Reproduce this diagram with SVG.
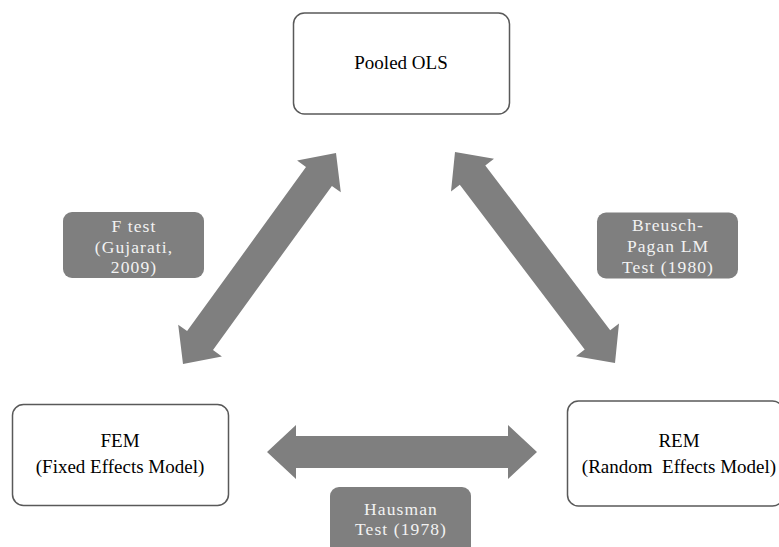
<svg xmlns="http://www.w3.org/2000/svg" width="779" height="547" viewBox="0 0 779 547">
<style>
.box{fill:#ffffff;stroke:#595959;stroke-width:1.5}
.lbl{fill:#7f7f7f}
.arr{fill:#7f7f7f}
.bt{font-family:"Liberation Serif","Times New Roman",serif;font-size:19px;fill:#000;text-anchor:middle;white-space:pre}
.lt{font-family:"Liberation Serif","Times New Roman",serif;font-size:17.5px;fill:#f2f2f2;text-anchor:middle;letter-spacing:1.1px}
</style>
<rect width="779" height="547" fill="#ffffff"/>
<g id="connectors">
<polygon class="arr" points="336,153 340.8,192.3 331.9,185.9 213,349.9 221.9,356.4 183,364 178.2,324.7 187.1,331.1 306,167.1 297.1,160.6"/>
<polygon class="arr" points="455,152 451,191.4 459.8,184.8 584.7,349.6 576,356.2 615,363 619,323.6 610.2,330.2 485.3,165.4 494,158.8"/>
<polygon class="arr" points="267,452 296,479 296,468 508,468 508,479 537,452 508,425 508,436 296,436 296,425"/>
</g>
<g id="pooled">
<rect class="box" x="293.5" y="13" width="216" height="101" rx="11"/>
<text class="bt" x="401" y="68.5">Pooled OLS</text>
</g>
<g id="fem">
<rect class="box" x="12.5" y="404.5" width="216" height="101" rx="11"/>
<text class="bt" x="120" y="446.5">FEM</text>
<text class="bt" x="120" y="472.5">(Fixed Effects Model)</text>
</g>
<g id="rem">
<rect class="box" x="567.5" y="401" width="216" height="105" rx="11"/>
<text class="bt" x="679" y="446.5">REM</text>
<text class="bt" x="679" y="472.5">(Random  Effects Model)</text>
</g>
<g id="ftest">
<rect class="lbl" x="63" y="212" width="141" height="66" rx="9"/>
<text class="lt" x="134" y="231.5">F test</text>
<text class="lt" x="134" y="252.5">(Gujarati,</text>
<text class="lt" x="134" y="272.5">2009)</text>
</g>
<g id="bplm">
<rect class="lbl" x="597" y="212.5" width="141" height="66" rx="9"/>
<text class="lt" x="668" y="231">Breusch-</text>
<text class="lt" x="668" y="251.5">Pagan LM</text>
<text class="lt" x="668" y="273">Test (1980)</text>
</g>
<g id="hausman">
<rect class="lbl" x="330" y="487" width="141" height="70" rx="9"/>
<text class="lt" x="401" y="515">Hausman</text>
<text class="lt" x="401" y="535">Test (1978)</text>
</g>
</svg>
